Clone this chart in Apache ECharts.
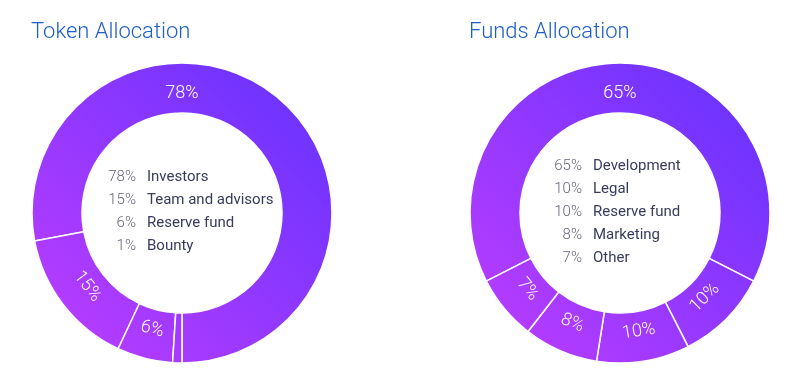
<!DOCTYPE html>
<html>
<head>
<meta charset="utf-8">
<script src="https://cdn.jsdelivr.net/npm/echarts@6/dist/echarts.min.js"></script>
<style>
html,body{margin:0;padding:0;background:#fff;}
#c{width:802px;height:389px;}
</style>
</head>
<body>
<div id="c"></div>
<script>
const tokenNames = ['Investors', 'Team and advisors', 'Reserve fund', 'Bounty'];
const tokenValues = [78, 15, 6, 1];
const fundsNames = ['Development', 'Legal', 'Reserve fund', 'Marketing', 'Other'];
const fundsValues = [65, 10, 10, 8, 7];
const titles = ['Token Allocation', 'Funds Allocation'];

const chart = echarts.init(document.getElementById('c'));
const R_IN = 100, R_OUT = 150, R_LABEL = 120;
const C1 = [182, 213], C2 = [620, 213];
const FONT = 'Roboto, "Noto Sans", sans-serif';

function grad(c) {
  return new echarts.graphic.LinearGradient(c[0] + R_OUT, c[1] - R_OUT, c[0] - R_OUT, c[1] + R_OUT, [
    { offset: 0, color: '#6232ff' },
    { offset: 1, color: '#c03dff' }
  ], true);
}

function legendTexts(names, values, xSplit, top) {
  return [
    {
      type: 'text', x: xSplit, y: top, silent: true,
      style: {
        text: values.map(v => v + '%').join('\n'),
        fill: '#64657a', fontSize: 15, fontFamily: FONT, fontWeight: 300,
        lineHeight: 23, align: 'right', verticalAlign: 'top'
      }
    },
    {
      type: 'text', x: xSplit + 11, y: top, silent: true,
      style: {
        text: names.join('\n'),
        fill: '#383b5c', fontSize: 15, fontFamily: FONT, fontWeight: 400,
        lineHeight: 23, align: 'left', verticalAlign: 'top'
      }
    }
  ];
}

function pieSeries(names, values, c, startAngle, clockwise, topFirst, hideSmall) {
  return {
    type: 'pie',
    center: c,
    radius: [R_IN, R_OUT],
    startAngle: startAngle,
    clockwise: clockwise,
    silent: true,
    itemStyle: { color: grad(c), borderColor: '#ffffff', borderWidth: 1.5 },
    label: {
      show: true,
      position: 'inside',
      rotate: 'tangential',
      formatter: function (p) { return (hideSmall && p.value < 2) ? '' : p.value + '%'; },
      color: '#ffffff',
      fontSize: 18,
      fontFamily: FONT,
      fontWeight: 300
    },
    labelLine: { show: false },
    labelLayout: function (p) {
      if (topFirst && p.dataIndex === 0) {
        return { x: c[0], y: c[1] - R_LABEL, rotate: 0, align: 'center', verticalAlign: 'middle' };
      }
      const r = p.labelRect;
      const cx = r.x + r.width / 2, cy = r.y + r.height / 2;
      const a = Math.atan2(cy - c[1], cx - c[0]);
      return { x: c[0] + R_LABEL * Math.cos(a), y: c[1] + R_LABEL * Math.sin(a), align: 'center', verticalAlign: 'middle' };
    },
    data: names.map((n, i) => ({ name: n, value: values[i] }))
  };
}

chart.setOption({
  animation: false,
  title: [
    { text: titles[0], left: 26, top: 16, textStyle: { color: '#1d5ec6', fontSize: 22, fontWeight: 300, fontFamily: FONT } },
    { text: titles[1], left: 464, top: 16, textStyle: { color: '#1d5ec6', fontSize: 22, fontWeight: 300, fontFamily: FONT } }
  ],
  graphic: legendTexts(tokenNames, tokenValues, 136, 166).concat(legendTexts(fundsNames, fundsValues, 582, 155)),
  series: [
    pieSeries(tokenNames, tokenValues, C1, 270, false, true, true),
    pieSeries(fundsNames, fundsValues, C2, 90 + fundsValues[0] * 3.6 / 2, true, false, false)
  ]
});
</script>
</body>
</html>
